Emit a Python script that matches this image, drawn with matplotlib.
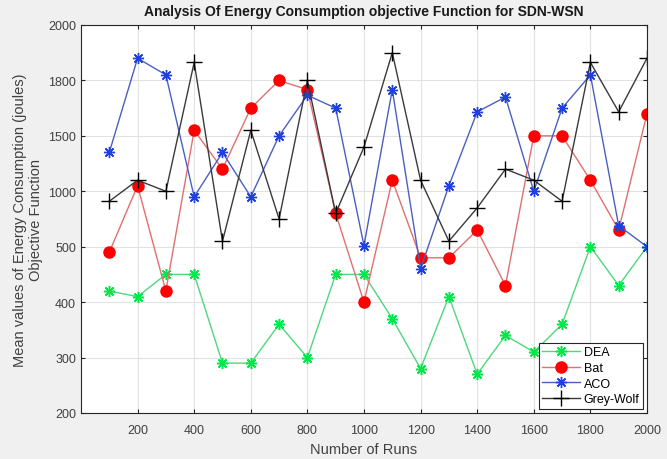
import numpy as np
import matplotlib
matplotlib.use("Agg")
import matplotlib.pyplot as plt

runs = [100, 200, 300, 400, 500, 600, 700, 800, 900, 1000,
        1100, 1200, 1300, 1400, 1500, 1600, 1700, 1800, 1900, 2000]
dea = [420, 410, 450, 450, 290, 290, 360, 300, 450, 450,
       370, 280, 410, 270, 340, 310, 360, 500, 430, 500]
bat = [490, 1050, 420, 1530, 1200, 1650, 1800, 1750, 800, 400,
       1100, 480, 480, 650, 430, 1500, 1500, 1100, 650, 1620]
aco = [1350, 1880, 1820, 950, 1350, 950, 1500, 1720, 1650, 510,
       1750, 460, 1050, 1630, 1710, 1000, 1650, 1820, 690, 500]
grey_wolf = [910, 1100, 1000, 1865, 550, 1530, 750, 1800, 800, 1400,
             1900, 1100, 550, 850, 1200, 1100, 910, 1865, 1630, 1880]
ytick_values = [200, 300, 400, 500, 1000, 1500, 1800, 2000]
xtick_values = [200, 400, 600, 800, 1000, 1200, 1400, 1600, 1800, 2000]

plt.rcParams['font.family'] = ['Liberation Sans', 'DejaVu Sans']

tick_pos = np.arange(len(ytick_values), dtype=float)
tick_val = np.array(ytick_values, dtype=float)


def fwd(v):
    v = np.asarray(v, dtype=float)
    return np.interp(v, tick_val, tick_pos, left=-1, right=8)


def inv(p):
    p = np.asarray(p, dtype=float)
    return np.interp(p, tick_pos, tick_val)


fig = plt.figure(figsize=(6.67, 4.6), dpi=100, facecolor='#f0f0f0')
ax = fig.add_axes([0.1214, 0.1, 0.8486, 0.8435])
ax.set_facecolor('white')
ax.set_yscale('function', functions=(fwd, inv))

ast = (8, 2, 0)
ax.plot(runs, dea, '-', color='#4fd77a', lw=1.0, marker=ast, ms=8,
        mfc='#00e84a', mec='#00e84a', mew=1.1, label='DEA')
ax.plot(runs, bat, '-', color='#e07070', lw=1.0, marker='o', ms=8,
        mfc='#ff0000', mec='#ff0000', label='Bat')
ax.plot(runs, aco, '-', color='#4a5fc0', lw=1.0, marker=ast, ms=8,
        mfc='#1f3fe0', mec='#1f3fe0', mew=1.0, label='ACO')
ax.plot(runs, grey_wolf, '-', color='#3a3a3a', lw=1.0, marker='+', ms=11,
        mfc='black', mec='black', mew=1.0, label='Grey-Wolf')

ax.set_xlim(0, 2000)
ax.set_ylim(200, 2000)
ax.set_xticks(xtick_values)
ax.set_yticks(ytick_values)
ax.set_yticklabels([str(v) for v in ytick_values])
ax.yaxis.set_minor_locator(matplotlib.ticker.NullLocator())
ax.grid(True, color='#e2e2e2', lw=0.8)
ax.set_axisbelow(True)
ax.tick_params(direction='in', length=3, labelsize=9, colors='#262626',
               labelcolor='#404040', top=True, right=True)
ax.tick_params(axis='x', pad=8)
for s in ax.spines.values():
    s.set_color('#262626')
    s.set_linewidth(0.8)

ax.set_title('Analysis Of Energy Consumption objective Function for SDN-WSN',
             fontsize=10, fontweight='bold', color='#1a1a1a', pad=7)
ax.set_xlabel('Number of Runs', fontsize=10.5, color='#404040', labelpad=4)
ax.set_ylabel('Mean values of Energy Consumption (joules)\nObjective Function',
              fontsize=10.5, color='#404040', labelpad=4, linespacing=1.1)

leg = ax.legend(loc='lower right', fontsize=9, frameon=True, fancybox=False,
                edgecolor='#262626', framealpha=1, handlelength=3,
                borderaxespad=0.3, labelspacing=0.3, borderpad=0.3,
                handletextpad=0.3)
leg.get_frame().set_linewidth(0.8)

fig.savefig('out.png', dpi=100, facecolor=fig.get_facecolor())
